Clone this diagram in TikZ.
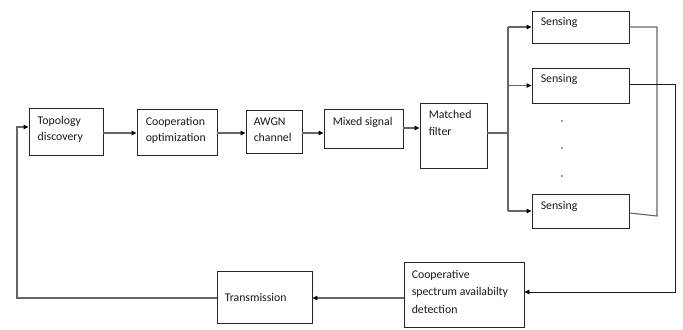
\documentclass[tikz,border=0pt]{standalone}
\usepackage{fontspec}
\setmainfont{Carlito}
\usetikzlibrary{arrows.meta,calc}
\begin{document}
\begin{tikzpicture}[x=1bp,y=-1bp,
  box/.style={draw=black!85,line width=0.9bp,rectangle,inner sep=0pt},
  lbl/.style={anchor=north west,inner sep=0pt,align=left,text=black!90,
    font=\fontsize{11.8bp}{16bp}\selectfont},
  wire/.style={draw=black!60,line width=1.1bp},
  thinwire/.style={draw=black!90,line width=0.8bp},
  conn/.style={wire,-{Triangle[length=5bp,width=4.5bp,color=black]}},
  thinconn/.style={thinwire,-{Triangle[length=5bp,width=4.5bp,color=black]}},
  dotmark/.style={circle,fill=black!80,inner sep=0pt,minimum size=1.6bp}]
\useasboundingbox (0,0) rectangle (683,329);

% processing chain
\node[box,minimum width=74bp,minimum height=47bp] (topo) at (66,131.5) {};
\node[box,minimum width=80bp,minimum height=46bp] (coop) at (177,132) {};
\node[box,minimum width=56bp,minimum height=43bp] (awgn) at (274,131.5) {};
\node[box,minimum width=79bp,minimum height=39bp] (mixed) at (363.5,128.5) {};
\node[box,minimum width=67bp,minimum height=65bp] (matched) at (453.5,135.5) {};

% sensing branches
\node[box,minimum width=97bp,minimum height=32bp] (s1) at (580.5,27) {};
\node[box,minimum width=97bp,minimum height=35bp] (s2) at (580.5,85.5) {};
\node[box,minimum width=97bp,minimum height=34bp] (s3) at (580.5,211) {};

% decision and feedback
\node[box,minimum width=120bp,minimum height=65bp] (csad) at (464,294.5) {};
\node[box,minimum width=95bp,minimum height=52bp] (trans) at (264.5,297) {};

% box texts
\node[lbl] (topoT) at ($(topo.north west)+(9,8.5)$) {Topology\\discovery};
\node[lbl] (coopT) at ($(coop.north west)+(9,8.5)$) {Cooperation\\optimization};
\node[lbl] (awgnT) at ($(awgn.north west)+(8,8)$) {AWGN\\channel};
\node[lbl] (mixedT) at ($(mixed.north west)+(9,8.5)$) {Mixed signal};
\node[lbl,font=\fontsize{11.8bp}{17bp}\selectfont] (matchedT) at ($(matched.north west)+(9,7.5)$) {Matched\\filter};
\node[lbl] (s1T) at ($(s1.north west)+(9,6.5)$) {Sensing};
\node[lbl] (s2T) at ($(s2.north west)+(9,6.5)$) {Sensing};
\node[lbl] (s3T) at ($(s3.north west)+(9,7.5)$) {Sensing};
\node[lbl,font=\fontsize{11.8bp}{17.5bp}\selectfont] (csadT) at ($(csad.north west)+(8,8.5)$) {Cooperative\\spectrum availabilty\\detection};
\node[lbl] (transT) at ($(trans.north west)+(8,22.5)$) {Transmission};

% elided branches
\node[dotmark] (d1) at (562,121) {};
\node[dotmark] (d2) at (562,148) {};
\node[dotmark] (d3) at (562,176) {};

% chain connectors
\draw[conn] (topo.east |- 0,133) -- (coop.west |- 0,133);
\draw[conn] (coop.east |- 0,133) -- (awgn.west |- 0,133);
\draw[conn] (awgn.east |- 0,133) -- (mixed.west |- 0,133);
\draw[conn] (mixed.east |- 0,128) -- (matched.west |- 0,128);

% fan-out to the sensing branches
\coordinate (bus) at (508,0);
\draw[wire] (matched.east |- 0,133) -- (bus |- 0,133);
\draw[wire] (bus |- s1.west) -- (bus |- s3.west);
\draw[conn] (bus |- s1.west) -- (s1.west);
\draw[conn] (bus |- s2.west) -- (s2.west);
\draw[conn] (bus |- s3.west) -- (s3.west);

% combining of the sensing outputs
\coordinate (rx) at (657,0);
\draw[wire] (s1.east) -- (s1.east -| rx) -- (rx |- 0,216) -- ($(s3.east)+(0,2)$);
\coordinate (rr) at (675,0);
\draw[thinconn] (s2.east |- 0,84) -- (rr |- 0,84) -- (rr |- 0,292) -- (csad.east |- 0,292);

% decision to transmission and feedback loop
\draw[conn] (csad.west |- 0,298) -- (trans.east |- 0,298);
\coordinate (lx) at (17,0);
\draw[conn] (trans.west |- 0,298) -- (lx |- 0,298) -- (lx |- 0,127) -- (topo.west |- 0,127);
\end{tikzpicture}
\end{document}
